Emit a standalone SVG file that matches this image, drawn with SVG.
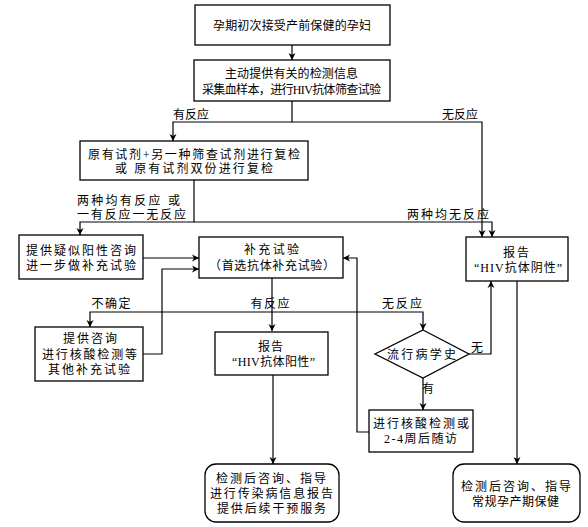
<svg xmlns="http://www.w3.org/2000/svg" width="588" height="527" viewBox="0 0 588 527">
<style>
.b{fill:#fff;stroke:#000;stroke-width:1.3}
.c{fill:none;stroke:#000;stroke-width:1.2;marker-end:url(#a)}
.l{fill:none;stroke:#000;stroke-width:1.2}
text{font-family:"Liberation Serif","Noto Sans CJK SC",serif;font-size:12px;fill:#000;text-anchor:middle}
.s{text-anchor:start}
</style>
<defs>
<marker id="a" markerUnits="userSpaceOnUse" markerWidth="8" markerHeight="8" refX="7" refY="4" orient="auto">
<path d="M0,0.5 L7,4 L0,7.5 L2,4 z" fill="#000"/>
</marker>
</defs>
<rect width="588" height="527" fill="#fff"/>
<g id="connectors">
<path class="c" d="M292,45 V60"/>
<path class="c" d="M292,101 V122 H173 V141"/>
<path class="c" d="M292,122 H482 V237"/>
<path class="c" d="M194,180 V222 H80 V235"/>
<path class="c" d="M194,222 H492 V237"/>
<path class="c" d="M143,258 H199"/>
<path class="c" d="M143,354 H162 V269 H199"/>
<path class="c" d="M272,278 V312 H90 V327"/>
<path class="c" d="M272,312 V331"/>
<path class="c" d="M272,312 H423 V330"/>
<path class="c" d="M469,354 H491 V281"/>
<path class="c" d="M423,378 V410"/>
<path class="c" d="M369,432 H357 V258 H343"/>
<path class="c" d="M273,375 V464"/>
<path class="c" d="M517,281 V464"/>
<text x="191" y="119" textLength="36">有反应</text>
<text x="460" y="119" textLength="36">无反应</text>
<text class="s" x="77" y="205" textLength="103">两种均有反应 或</text>
<text class="s" x="77" y="219" textLength="109">一有反应一无反应</text>
<text x="448" y="219" textLength="82">两种均无反应</text>
<text x="111" y="308" textLength="39">不确定</text>
<text x="270" y="308" textLength="39">有反应</text>
<text x="402" y="308" textLength="40">无反应</text>
<text x="477" y="352">无</text>
<text x="428" y="393">有</text>
</g>
<g id="n1"><rect class="b" x="195" y="5" width="195" height="40"/>
<text x="292" y="30" textLength="158">孕期初次接受产前保健的孕妇</text></g>
<g id="n2"><rect class="b" x="194" y="60" width="196" height="41"/>
<text x="291.5" y="78" textLength="133">主动提供有关的检测信息</text>
<text x="291.5" y="94" textLength="179">采集血样本，进行HIV抗体筛查试验</text></g>
<g id="n3"><rect class="b" x="80" y="141" width="228" height="39"/>
<text x="194" y="159" textLength="212">原有试剂+另一种筛查试剂进行复检</text>
<text x="194" y="173" textLength="158">或  原有试剂双份进行复检</text></g>
<g id="n4"><rect class="b" x="466" y="237" width="102" height="44"/>
<text x="516" y="257" textLength="26">报告</text>
<text x="518" y="272" textLength="88">“HIV抗体阴性”</text></g>
<g id="n5"><rect class="b" x="19" y="235" width="124" height="44"/>
<text x="81" y="255" textLength="110">提供疑似阳性咨询</text>
<text x="81" y="270" textLength="110">进一步做补充试验</text></g>
<g id="n6"><rect class="b" x="199" y="237" width="144" height="41"/>
<text x="271.5" y="254" textLength="55">补充试验</text>
<text x="272" y="270" textLength="126">（首选抗体补充试验）</text></g>
<g id="n7"><rect class="b" x="35" y="327" width="108" height="54"/>
<text x="90" y="343" textLength="54">提供咨询</text>
<text x="89.5" y="359" textLength="95">进行核酸检测等</text>
<text x="89" y="374" textLength="82">其他补充试验</text></g>
<g id="n8"><rect class="b" x="215" y="332" width="113" height="43"/>
<text x="270.5" y="351" textLength="25">报告</text>
<text x="273.5" y="366" textLength="83">“HIV抗体阳性”</text></g>
<g id="n9"><path class="b" d="M423,330 L469,354 L423,378 L375,354 z"/>
<text x="421.5" y="359" textLength="69">流行病学史</text></g>
<g id="n10"><rect class="b" x="369" y="410" width="104" height="42"/>
<text x="421" y="428" textLength="96">进行核酸检测或</text>
<text x="420.5" y="443" textLength="73">2-4周后随访</text></g>
<g id="n11"><rect class="b" x="205" y="464" width="134" height="58" rx="11"/>
<text x="271" y="483" textLength="110">检测后咨询、指导</text>
<text x="271.5" y="498" textLength="123">进行传染病信息报告</text>
<text x="271.5" y="513" textLength="109">提供后续干预服务</text></g>
<g id="n12"><rect class="b" x="453" y="464" width="127" height="58" rx="11"/>
<text x="516" y="491" textLength="110">检测后咨询、指导</text>
<text x="515.5" y="506" textLength="87">常规孕产期保健</text></g>
</svg>
